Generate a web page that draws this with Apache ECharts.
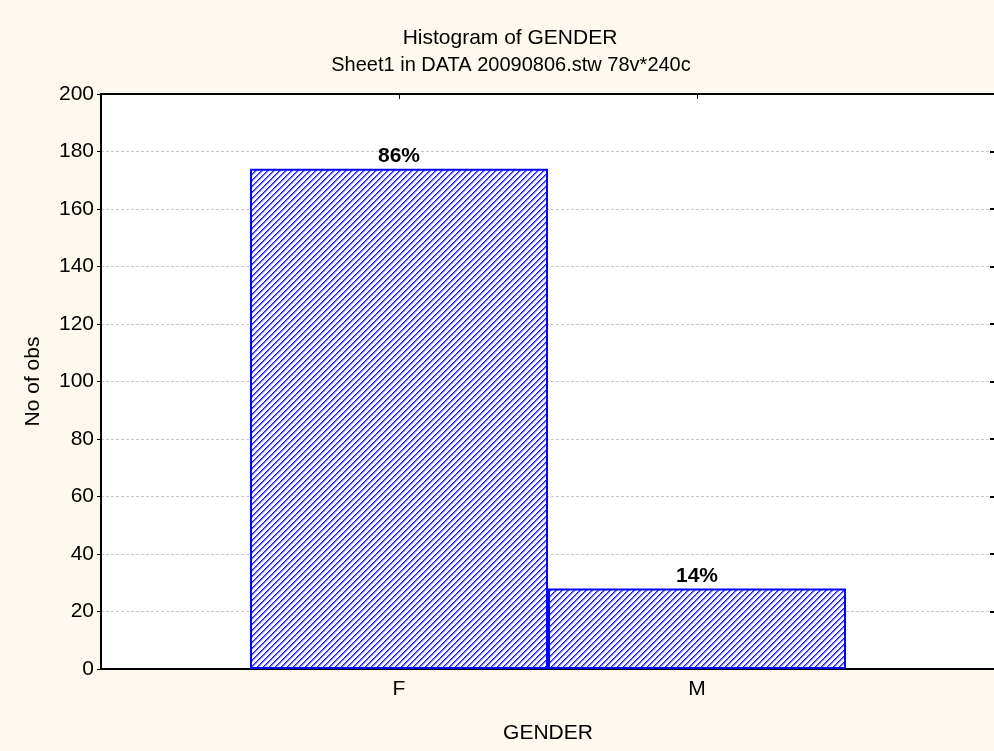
<!DOCTYPE html>
<html lang="en">
<head>
    <meta charset="UTF-8">
    <title>Histogram of GENDER</title>
    <style>
        html, body { margin: 0; padding: 0; background: #fef9ee; }
    </style>
</head>
<body>
<div id="chart" style="width: 994px;height:751px;"></div>

<script src="https://cdn.jsdelivr.net/npm/echarts@6/dist/echarts.min.js"></script>
<script>
    // categories padded with empty slots so F and M sit at 1/3 and 2/3 of the axis
    let categories = ['', 'F', 'M', ''],
        counts = [null, 174, 28, null],
        percentLabels = ['', '86%', '14%', ''],
        titleText = 'Histogram of GENDER',
        subtitleText = 'Sheet1 in DATA 20090806.stw 78v*240c';

    // diagonal hatch fill for the bars
    function hatch() {
        let n = 6,
            c = document.createElement('canvas');
        c.width = n;
        c.height = n;
        let ctx = c.getContext('2d');
        ctx.fillStyle = '#ffffff';
        ctx.fillRect(0, 0, n, n);
        for (let i = 0; i < n; i++) {
            ctx.fillStyle = '#1c1cff';
            ctx.fillRect(i, n - 1 - i, 1, 1);
            ctx.fillStyle = '#6a6aff';
            ctx.fillRect((i + 1) % n, n - 1 - i, 1, 1);
            ctx.fillStyle = '#c4c4ff';
            ctx.fillRect((i + 2) % n, n - 1 - i, 1, 1);
        }
        return c;
    }

    let font = '"Liberation Sans", Arial, sans-serif';
    let myChart = echarts.init(document.getElementById('chart'));
    let option = {
        backgroundColor: '#fef9ee',
        animation: false,
        graphic: [
            {
                type: 'text', x: 510, y: 38,
                style: { text: titleText, font: '21px ' + font, fill: '#000', align: 'center', verticalAlign: 'middle' }
            },
            {
                type: 'text', x: 511, y: 65,
                style: { text: subtitleText, font: '20px ' + font, fill: '#000', align: 'center', verticalAlign: 'middle' }
            }
        ],
        grid: {
            left: 101,
            top: 94,
            width: 894,
            bottom: 82,
            outerBoundsMode: 'none',
            containLabel: false,
            show: true,
            backgroundColor: '#ffffff',
            borderWidth: 0
        },
        xAxis: [
            {
                type: 'category',
                data: categories,
                boundaryGap: false,
                name: 'GENDER',
                nameLocation: 'middle',
                nameGap: 54,
                nameTextStyle: { fontFamily: font, fontSize: 21, color: '#000' },
                axisLine: { onZero: false, lineStyle: { color: '#000', width: 2 } },
                axisTick: { inside: true, length: 5, interval: i => i === 1 || i === 2, lineStyle: { color: '#000' } },
                axisLabel: { fontFamily: font, fontSize: 21, color: '#000', margin: 10, interval: 0 },
                splitLine: { show: false }
            },
            {
                type: 'category',
                data: categories,
                boundaryGap: false,
                position: 'top',
                axisLine: { onZero: false, lineStyle: { color: '#000', width: 2 } },
                axisTick: { inside: true, length: 5, interval: i => i === 1 || i === 2, lineStyle: { color: '#000' } },
                axisLabel: { show: false },
                splitLine: { show: false }
            }
        ],
        yAxis: [
            {
                type: 'value',
                min: 0,
                max: 200,
                interval: 20,
                name: 'No of obs',
                nameLocation: 'middle',
                nameGap: 57,
                nameTextStyle: { fontFamily: font, fontSize: 21, color: '#000' },
                axisLine: { show: true, onZero: false, lineStyle: { color: '#000', width: 2 } },
                axisTick: { show: true, length: 4, lineStyle: { color: '#000' } },
                axisLabel: { fontFamily: font, fontSize: 21, color: '#000', margin: 7 },
                splitLine: { show: true, lineStyle: { color: '#c8c8c8', type: [3, 2], width: 1 } }
            },
            {
                type: 'value',
                min: 0,
                max: 200,
                interval: 20,
                position: 'right',
                axisLine: { show: false },
                axisTick: { show: true, inside: true, length: 5, lineStyle: { color: '#000', width: 2 } },
                axisLabel: { show: false },
                splitLine: { show: false }
            }
        ],
        series: [
            {
                type: 'bar',
                data: counts,
                barWidth: '100%',
                itemStyle: {
                    color: { image: hatch(), repeat: 'repeat' },
                    borderColor: '#0000ff',
                    borderWidth: 2
                },
                label: {
                    show: true,
                    position: 'top',
                    distance: 2,
                    formatter: p => percentLabels[p.dataIndex],
                    fontFamily: font,
                    fontSize: 21,
                    fontWeight: 'bold',
                    color: '#000'
                }
            }
        ]
    };
    myChart.setOption(option);
</script>
</body>
</html>
